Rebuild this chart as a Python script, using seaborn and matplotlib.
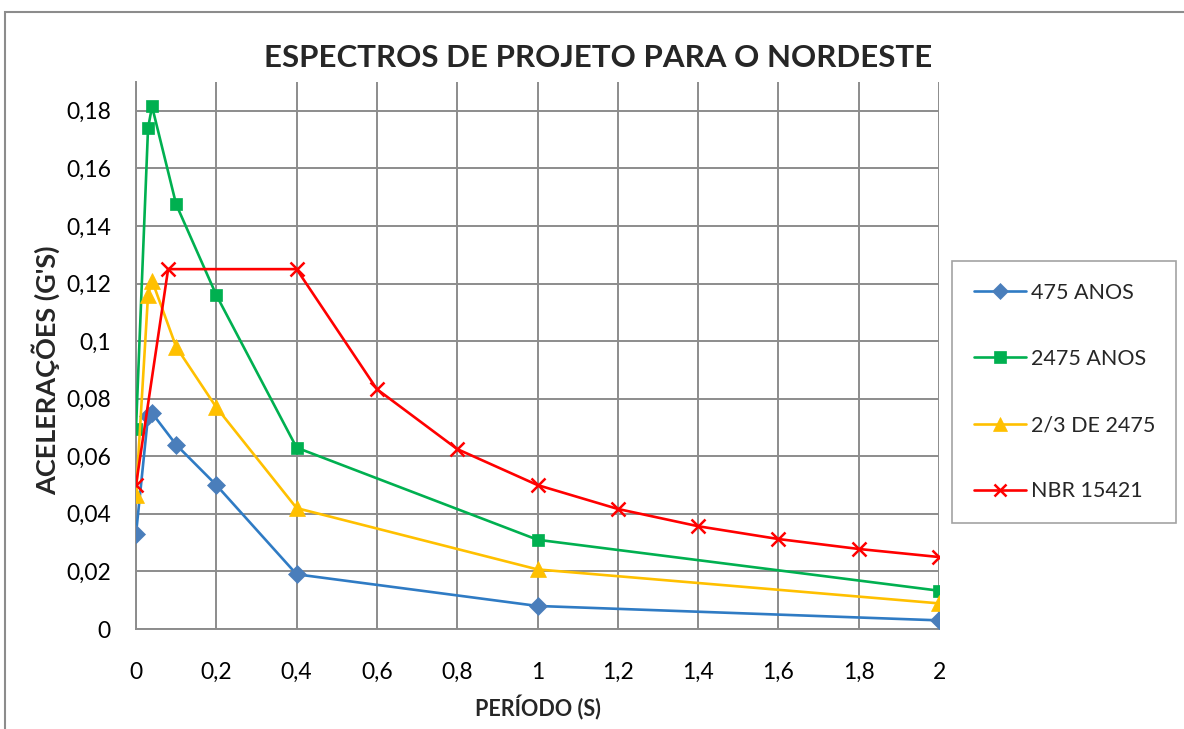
import matplotlib
matplotlib.use("Agg")
import matplotlib.pyplot as plt
import seaborn as sns
import pandas as pd
from matplotlib.patches import Rectangle
from matplotlib.lines import Line2D
from matplotlib.ticker import FuncFormatter

series_names = ["475 ANOS", "2475 ANOS", "2/3 DE 2475", "NBR 15421"]

x_475 = [0, 0.03, 0.04, 0.1, 0.2, 0.4, 1.0, 2.0]
y_475 = [0.033, 0.074, 0.075, 0.064, 0.050, 0.019, 0.008, 0.003]

x_2475 = [0, 0.03, 0.04, 0.1, 0.2, 0.4, 1.0, 2.0]
y_2475 = [0.0695, 0.174, 0.1815, 0.1475, 0.116, 0.063, 0.031, 0.0133]

x_23 = [0, 0.03, 0.04, 0.1, 0.2, 0.4, 1.0, 2.0]
y_23 = [0.0465, 0.116, 0.121, 0.098, 0.077, 0.042, 0.0207, 0.0089]

x_nbr = [0, 0.08, 0.4, 0.6, 0.8, 1.0, 1.2, 1.4, 1.6, 1.8, 2.0]
y_nbr = [0.05, 0.125, 0.125, 0.0833, 0.0625, 0.05, 0.0417, 0.0357, 0.03125, 0.0278, 0.025]

x_ticks = [0, 0.2, 0.4, 0.6, 0.8, 1.0, 1.2, 1.4, 1.6, 1.8, 2.0]
y_ticks = [0, 0.02, 0.04, 0.06, 0.08, 0.10, 0.12, 0.14, 0.16, 0.18]

title = "ESPECTROS DE PROJETO PARA O NORDESTE"
xlabel = "PERÍODO (S)"
ylabel = "ACELERAÇÕES (G'S)"

frames = []
for name, xs, ys in zip(series_names, [x_475, x_2475, x_23, x_nbr], [y_475, y_2475, y_23, y_nbr]):
    frames.append(pd.DataFrame({"x": xs, "y": ys, "serie": name}))
df = pd.concat(frames, ignore_index=True)

line_colors = {"475 ANOS": "#2F7BC4", "2475 ANOS": "#00B050", "2/3 DE 2475": "#FFC000", "NBR 15421": "#FF0000"}
marker_face = {"475 ANOS": "#4A7EBB", "2475 ANOS": "#00B050", "2/3 DE 2475": "#FFC000", "NBR 15421": "#FF0000"}
markers = {"475 ANOS": "D", "2475 ANOS": "s", "2/3 DE 2475": "^", "NBR 15421": "x"}
msizes = {"475 ANOS": 9, "2475 ANOS": 9, "2/3 DE 2475": 11, "NBR 15421": 10}

sns.set_style("white")
plt.rcParams["font.family"] = ["Lato", "DejaVu Sans"]

fig = plt.figure(figsize=(11.84, 7.29), dpi=100)
ax = fig.add_axes([136 / 1184, 1 - 629 / 729, (939 - 136) / 1184, (629 - 82) / 729])

for name in series_names:
    sub = df[df["serie"] == name]
    sns.lineplot(data=sub, x="x", y="y", sort=False, ax=ax, color=line_colors[name],
                 linewidth=1.9, marker=markers[name], markersize=msizes[name],
                 markerfacecolor=marker_face[name], markeredgecolor=marker_face[name],
                 markeredgewidth=1.8 if name == "NBR 15421" else 0.5, legend=False,
                 zorder=3)

ax.set_xlim(0, 2)
ax.set_ylim(0, 0.19)
ax.set_xticks(x_ticks)
ax.set_yticks(y_ticks)
fmt = lambda v, p: ("%g" % round(v, 4)).replace(".", ",")
ax.xaxis.set_major_formatter(FuncFormatter(fmt))
ax.yaxis.set_major_formatter(FuncFormatter(fmt))
ax.grid(True, color="#8C8C8C", linewidth=1.4)
ax.set_axisbelow(True)
for s in ["top", "right"]:
    ax.spines[s].set_visible(False)
for s in ["left", "bottom"]:
    ax.spines[s].set_color("#8C8C8C")
    ax.spines[s].set_linewidth(1.4)
ax.tick_params(axis="both", labelsize=16.5, colors="#000000", length=6, width=1.2, direction="out",
               color="#8C8C8C")
ax.tick_params(axis="y", pad=12)
ax.tick_params(axis="x", pad=18)

ax.set_xlabel(xlabel, fontsize=15.5, fontweight="bold")
ax.xaxis.set_label_coords(0.5, -(708 - 629) / 547, transform=ax.transAxes)
ax.xaxis.label.set_va("center")
ax.set_ylabel(ylabel, fontsize=19.5, fontweight="bold")
ax.yaxis.set_label_coords(-(136 - 46) / 803, (629 - 370) / 547, transform=ax.transAxes)
ax.yaxis.label.set_va("center")
fig.text(598 / 1184, 1 - 58 / 729, title, fontsize=22.5, fontweight="bold", ha="center", va="center")

# Legend
handles = [Line2D([0], [0], color=line_colors[n], linewidth=1.9, marker=markers[n],
                  markersize=msizes[n] - 1, markerfacecolor=marker_face[n], markeredgecolor=marker_face[n],
                  markeredgewidth=1.8 if n == "NBR 15421" else 0.5) for n in series_names]
leg = fig.legend(handles, series_names, loc="upper left",
                 bbox_to_anchor=(952 / 1184, 1 - 261 / 729), fontsize=15.5, frameon=True,
                 fancybox=False, edgecolor="#8C8C8C", handlelength=2.45, labelspacing=2.15,
                 borderpad=1.0, handletextpad=0.2, borderaxespad=0)
leg.get_frame().set_linewidth(1.2)

# outer chart border
fig.patches.append(Rectangle((5 / 1184, -0.01), 1.2, 1 - 12 / 729 + 0.01, transform=fig.transFigure,
                             fill=False, edgecolor="#8C8C8C", linewidth=1.5))

fig.savefig("out.png", dpi=100)
